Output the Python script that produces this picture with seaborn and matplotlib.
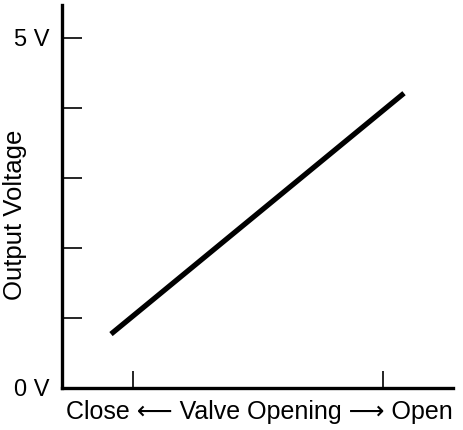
import matplotlib
matplotlib.use("Agg")
import matplotlib.pyplot as plt
import seaborn as sns
import pandas as pd

sns.set_style("white")
plt.rcParams['font.family'] = ['Liberation Sans', 'DejaVu Sans']

# data
valve_opening = [-0.088, 1.084]
output_voltage = [0.77, 4.21]
y_ticks = [0, 1, 2, 3, 4, 5]
y_tick_labels = ["0 V", "", "", "", "", "5 V"]
x_ticks = [0, 1]

df = pd.DataFrame({"opening": valve_opening, "voltage": output_voltage})

fig = plt.figure(figsize=(4.64, 4.30), dpi=100)
ax = fig.add_axes([0.1336, 0.0977, 0.8427, 0.8907])
sns.lineplot(data=df, x="opening", y="voltage", ax=ax, color="black",
             linewidth=3.8, solid_capstyle="butt")

ax.set_xlim(-0.284, 1.28)
ax.set_ylim(0, 5.47)
ax.set_yticks(y_ticks)
ax.set_yticklabels(y_tick_labels, fontsize=17, color="black")
ax.set_xticks(x_ticks)
ax.set_xticklabels(["", ""])
ax.tick_params(axis="y", left=True, direction="in", length=14.5, width=1.2,
               color="black", pad=9)
ax.tick_params(axis="x", bottom=True, direction="in", length=12, width=1.2,
               color="black")
for s in ["top", "right"]:
    ax.spines[s].set_visible(False)
for s in ["left", "bottom"]:
    ax.spines[s].set_linewidth(2.4)
    ax.spines[s].set_color("black")

ax.set_ylabel("Output Voltage", fontsize=18.5, color="black")
ax.yaxis.set_label_coords(-0.09, 0.452)
ax.set_xlabel("Close \u27f5 Valve Opening \u27f6 Open", fontsize=18, color="black")
ax.xaxis.set_label_coords(0.506, -0.031)

fig.savefig("out.png", dpi=100)
